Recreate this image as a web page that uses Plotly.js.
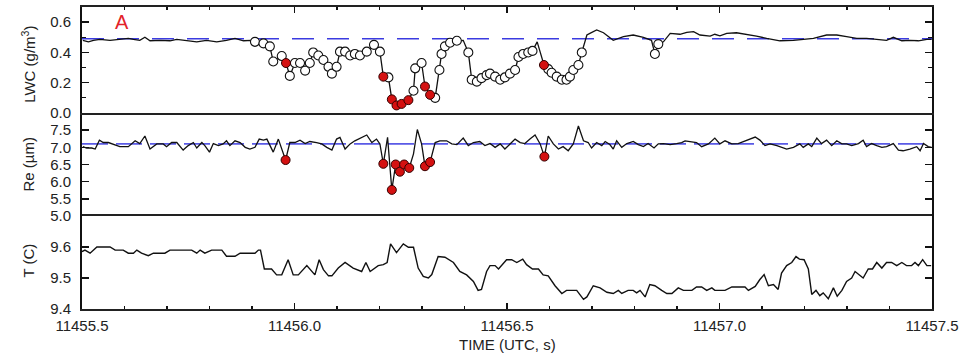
<!DOCTYPE html>
<html>
<head>
<meta charset="utf-8">
<script src="https://cdn.plot.ly/plotly-3.0.1.min.js"></script>
<style>html,body{margin:0;padding:0;background:#fff;}#chart{width:969px;height:356px;}</style>
</head>
<body>
<div id="chart"></div>
<script>
// ---- data (time in UTC seconds) ----
const lwcTime = [11455.502,11455.515,11455.527,11455.542,11455.566,11455.589,11455.609,11455.621,11455.636,11455.648,11455.660,11455.684,11455.707,11455.723,11455.746,11455.770,11455.793,11455.817,11455.840,11455.860,11455.880,11455.899,
11455.907,11455.927,11455.942,11455.950,11455.970,11455.980,11455.989,11456.001,11456.013,11456.025,11456.036,11456.044,11456.056,11456.068,11456.080,11456.088,11456.099,11456.107,11456.119,11456.131,11456.142,11456.154,11456.170,11456.187,11456.201,11456.209,11456.221,11456.229,11456.240,11456.252,11456.268,11456.280,11456.284,11456.299,11456.307,11456.319,11456.331,11456.341,11456.346,11456.354,11456.366,11456.382,11456.397,11456.409,11456.417,11456.429,11456.440,11456.452,11456.460,11456.472,11456.484,11456.495,11456.507,11456.519,11456.527,11456.538,11456.550,11456.560,11456.571,11456.587,11456.597,11456.605,11456.617,11456.629,11456.640,11456.648,11456.656,11456.668,11456.676,
11456.688,11456.695,11456.711,11456.727,11456.750,11456.774,11456.797,11456.821,11456.840,11456.848,11456.856,11456.868,11456.884,11456.907,11456.923,11456.939,11456.954,11456.978,11456.989,11457.001,11457.017,11457.040,11457.064,11457.087,11457.111,11457.142,11457.174,11457.197,11457.221,11457.252,11457.276,11457.299,11457.323,11457.346,11457.370,11457.393,11457.409,11457.429,11457.448,11457.468,11457.488,11457.499];
const lwcValue = [0.48,0.47,0.48,0.486,0.48,0.486,0.493,0.486,0.48,0.50,0.477,0.48,0.477,0.486,0.48,0.47,0.48,0.47,0.48,0.493,0.477,0.48,
0.47,0.46,0.44,0.34,0.376,0.33,0.245,0.33,0.33,0.28,0.33,0.40,0.38,0.35,0.305,0.26,0.305,0.405,0.405,0.38,0.39,0.38,0.405,0.45,0.405,0.24,0.235,0.09,0.05,0.06,0.085,0.147,0.295,0.33,0.175,0.12,0.10,0.284,0.39,0.44,0.464,0.477,0.48,0.40,0.22,0.207,0.23,0.25,0.26,0.24,0.22,0.235,0.26,0.284,0.37,0.39,0.40,0.41,0.47,0.317,0.29,0.266,0.24,0.22,0.22,0.24,0.284,0.317,0.40,
0.515,0.526,0.548,0.53,0.48,0.505,0.515,0.50,0.48,0.39,0.455,0.47,0.526,0.52,0.533,0.537,0.515,0.508,0.52,0.51,0.526,0.53,0.52,0.508,0.493,0.477,0.48,0.486,0.493,0.515,0.515,0.505,0.493,0.493,0.486,0.48,0.50,0.477,0.48,0.477,0.486,0.486];
// 0 = no marker, 1 = open circle, 2 = red (low Re)
const lwcFlag = [0,0,0,0,0,0,0,0,0,0,0,0,0,0,0,0,0,0,0,0,0,0,
1,1,1,1,1,2,1,1,1,1,1,1,1,1,1,1,1,1,1,1,1,1,1,1,1,2,1,2,2,2,2,1,1,1,2,2,1,1,1,1,1,1,0,1,1,1,1,1,1,1,1,1,1,1,1,1,1,1,0,2,1,1,1,1,1,1,1,1,1,
0,0,0,0,0,0,0,0,0,1,1,0,0,0,0,0,0,0,0,0,0,0,0,0,0,0,0,0,0,0,0,0,0,0,0,0,0,0,0,0,0,0];
const lwcMean = 0.49;

const reTime = [11455.502,11455.511,11455.523,11455.531,11455.541,11455.550,11455.562,11455.574,11455.589,11455.609,11455.625,11455.636,11455.648,11455.660,11455.676,11455.691,11455.699,11455.711,11455.723,11455.738,11455.750,11455.762,11455.770,11455.782,11455.789,11455.800,11455.809,11455.821,11455.832,11455.840,11455.848,11455.860,11455.872,11455.884,11455.895,11455.907,11455.917,11455.927,11455.935,11455.950,11455.962,11455.979,11455.989,11456.001,11456.013,11456.025,11456.036,11456.052,11456.064,11456.076,11456.088,11456.099,11456.107,11456.119,11456.131,11456.142,11456.154,11456.170,11456.182,11456.193,11456.201,11456.209,11456.219,11456.229,11456.238,11456.248,11456.258,11456.270,11456.280,11456.289,11456.299,11456.307,11456.319,11456.331,11456.342,11456.358,11456.370,11456.382,11456.397,11456.409,11456.421,11456.436,11456.448,11456.460,11456.472,11456.484,11456.495,11456.507,11456.519,11456.531,11456.542,11456.554,11456.566,11456.578,11456.588,11456.597,11456.609,11456.621,11456.632,11456.644,11456.656,11456.668,11456.680,11456.691,11456.699,11456.711,11456.723,11456.731,11456.742,11456.750,11456.758,11456.770,11456.782,11456.797,11456.809,11456.821,11456.832,11456.846,11456.856,11456.868,11456.884,11456.899,11456.911,11456.919,11456.935,11456.946,11456.958,11456.974,11456.989,11457.001,11457.013,11457.029,11457.044,11457.064,11457.084,11457.095,11457.107,11457.119,11457.135,11457.158,11457.174,11457.189,11457.197,11457.209,11457.217,11457.229,11457.240,11457.252,11457.264,11457.276,11457.288,11457.299,11457.311,11457.327,11457.338,11457.346,11457.358,11457.370,11457.382,11457.393,11457.409,11457.421,11457.432,11457.448,11457.464,11457.472,11457.480,11457.491,11457.499];
const reValue = [7.02,6.98,6.98,6.95,7.21,7.14,7.14,7.08,7.02,7.02,7.19,7.11,7.33,6.95,7.10,7.10,7.02,7.14,7.14,6.92,7.05,7.14,6.98,7.14,7.05,6.86,7.11,7.05,7.10,7.19,7.05,7.19,7.14,7.00,6.95,7.00,7.24,7.21,7.24,6.86,7.24,6.63,7.14,7.14,7.21,7.11,7.17,7.14,7.10,7.00,6.92,7.24,7.29,6.95,7.10,7.19,7.27,7.36,7.14,7.24,7.10,6.52,7.29,5.76,6.50,6.29,6.50,6.40,6.81,7.52,7.10,6.45,6.57,7.14,7.19,7.19,7.10,7.08,7.27,7.05,7.14,7.17,7.05,7.11,7.00,7.10,6.95,7.10,7.24,7.14,7.11,7.24,7.36,7.10,6.73,7.33,7.10,6.95,7.02,6.90,7.10,7.62,7.19,7.14,6.98,7.14,7.05,7.17,7.08,6.95,7.19,7.00,7.11,7.17,7.08,7.02,7.11,6.98,7.10,7.11,7.08,7.11,7.14,7.19,7.17,7.14,7.02,7.10,7.27,7.10,7.19,7.10,7.11,7.21,7.30,7.21,7.05,7.10,7.05,6.95,7.00,7.10,7.00,7.10,7.02,7.27,7.11,7.21,7.05,7.19,7.10,7.10,7.05,7.11,7.21,7.02,7.11,7.05,7.00,7.02,7.11,6.92,6.90,6.95,7.02,6.90,7.11,7.02,7.00];
const reFlag = [0,0,0,0,0,0,0,0,0,0,0,0,0,0,0,0,0,0,0,0,0,0,0,0,0,0,0,0,0,0,0,0,0,0,0,0,0,0,0,0,0,1,0,0,0,0,0,0,0,0,0,0,0,0,0,0,0,0,0,0,0,1,0,1,1,1,1,1,0,0,0,1,1,0,0,0,0,0,0,0,0,0,0,0,0,0,0,0,0,0,0,0,0,0,1,0,0,0,0,0,0,0,0,0,0,0,0,0,0,0,0,0,0,0,0,0,0,0,0,0,0,0,0,0,0,0,0,0,0,0,0,0,0,0,0,0,0,0,0,0,0,0,0,0,0,0,0,0,0,0,0,0,0,0,0,0,0,0,0,0,0,0,0,0,0,0,0,0,0,0,0];
const reMean = 7.1;

const tTime = [11455.500,11455.507,11455.519,11455.535,11455.566,11455.578,11455.597,11455.609,11455.621,11455.629,11455.640,11455.656,11455.668,11455.695,11455.707,11455.758,11455.770,11455.778,11455.789,11455.805,11455.829,11455.840,11455.860,11455.872,11455.907,11455.915,11455.920,11455.929,11455.946,11455.958,11455.970,11455.985,11455.997,11456.009,11456.029,11456.048,11456.058,11456.068,11456.080,11456.088,11456.103,11456.119,11456.138,11456.158,11456.168,11456.178,11456.197,11456.209,11456.218,11456.226,11456.240,11456.256,11456.268,11456.280,11456.291,11456.303,11456.315,11456.323,11456.338,11456.354,11456.374,11456.389,11456.405,11456.421,11456.432,11456.440,11456.452,11456.460,11456.472,11456.480,11456.499,11456.511,11456.523,11456.537,11456.546,11456.560,11456.574,11456.585,11456.597,11456.613,11456.629,11456.640,11456.664,11456.680,11456.688,11456.703,11456.719,11456.735,11456.750,11456.762,11456.770,11456.785,11456.797,11456.805,11456.813,11456.825,11456.836,11456.848,11456.864,11456.876,11456.888,11456.903,11456.915,11456.935,11456.946,11456.958,11456.970,11456.982,11456.989,11457.013,11457.029,11457.060,11457.068,11457.084,11457.095,11457.105,11457.115,11457.127,11457.138,11457.146,11457.158,11457.170,11457.180,11457.188,11457.199,11457.209,11457.217,11457.227,11457.236,11457.244,11457.256,11457.268,11457.277,11457.288,11457.299,11457.311,11457.319,11457.329,11457.338,11457.350,11457.360,11457.370,11457.382,11457.393,11457.405,11457.417,11457.429,11457.440,11457.452,11457.460,11457.468,11457.478,11457.488,11457.498];
const tValue = [9.585,9.59,9.58,9.60,9.60,9.59,9.59,9.58,9.58,9.59,9.58,9.572,9.58,9.58,9.59,9.59,9.58,9.59,9.58,9.59,9.59,9.57,9.57,9.58,9.58,9.59,9.59,9.529,9.529,9.51,9.51,9.559,9.51,9.51,9.54,9.51,9.559,9.527,9.507,9.507,9.532,9.55,9.532,9.521,9.55,9.521,9.54,9.543,9.55,9.61,9.582,9.61,9.599,9.599,9.532,9.505,9.50,9.511,9.569,9.567,9.55,9.521,9.51,9.489,9.46,9.463,9.521,9.54,9.54,9.529,9.559,9.559,9.55,9.561,9.543,9.529,9.529,9.51,9.507,9.475,9.45,9.46,9.46,9.431,9.439,9.475,9.468,9.454,9.45,9.46,9.45,9.46,9.46,9.452,9.46,9.439,9.479,9.475,9.46,9.45,9.45,9.468,9.46,9.46,9.471,9.471,9.46,9.468,9.46,9.46,9.471,9.471,9.46,9.473,9.495,9.511,9.475,9.479,9.463,9.516,9.54,9.55,9.569,9.561,9.559,9.529,9.447,9.46,9.443,9.452,9.433,9.468,9.441,9.46,9.489,9.50,9.521,9.511,9.50,9.529,9.529,9.55,9.532,9.55,9.55,9.54,9.55,9.54,9.54,9.55,9.54,9.559,9.54,9.54];

const xRange = [11455.5, 11457.5];
const lwcTicks = [0.0, 0.2, 0.4, 0.6];
const reTicks = [5.0, 5.5, 6.0, 6.5, 7.0, 7.5];
const tTicks = [9.4, 9.5, 9.6];

// ---- build traces ----
function pick(xs, ys, flags, f) {
  const ox = [], oy = [];
  flags.forEach((v, i) => { if (v === f) { ox.push(xs[i]); oy.push(ys[i]); } });
  return [ox, oy];
}
const FONT = 'Liberation Sans, Arial, sans-serif';
const [wcx, wcy] = pick(lwcTime, lwcValue, lwcFlag, 1);
const [rcx, rcy] = pick(lwcTime, lwcValue, lwcFlag, 2);
const [rrx, rry] = pick(reTime, reValue, reFlag, 1);

const traces = [
  {x: xRange, y: [lwcMean, lwcMean], xaxis: 'x3', yaxis: 'y', mode: 'lines',
   line: {color: '#3b3be0', width: 1.6, dash: '22px,13px'}, hoverinfo: 'skip'},
  {x: lwcTime, y: lwcValue, xaxis: 'x3', yaxis: 'y', mode: 'lines',
   line: {color: '#111', width: 1.3}},
  {x: wcx, y: wcy, xaxis: 'x3', yaxis: 'y', mode: 'markers',
   marker: {symbol: 'circle', size: 9, color: '#fff', line: {color: '#111', width: 1.1}}},
  {x: rcx, y: rcy, xaxis: 'x3', yaxis: 'y', mode: 'markers',
   marker: {symbol: 'circle', size: 9, color: '#d41111', line: {color: '#300', width: 1}}},
  {x: xRange, y: [reMean, reMean], xaxis: 'x2', yaxis: 'y2', mode: 'lines',
   line: {color: '#5a5ae6', width: 1.6, dash: '26px,8px'}, hoverinfo: 'skip'},
  {x: reTime, y: reValue, xaxis: 'x2', yaxis: 'y2', mode: 'lines',
   line: {color: '#111', width: 1.3}},
  {x: rrx, y: rry, xaxis: 'x2', yaxis: 'y2', mode: 'markers',
   marker: {symbol: 'circle', size: 9, color: '#d41111', line: {color: '#300', width: 1}}},
  {x: tTime, y: tValue, xaxis: 'x', yaxis: 'y3', mode: 'lines',
   line: {color: '#111', width: 1.4}}
];

const tickFont = {family: FONT, size: 15, color: '#222'};
const baseX = {range: xRange, showgrid: false, zeroline: false, showline: true,
  linecolor: '#222', linewidth: 2, fixedrange: true};
const baseY = {showgrid: false, zeroline: false, showline: true, linecolor: '#111',
  linewidth: 2, ticks: 'inside', ticklen: 7, tickwidth: 1.5, tickcolor: '#111',
  mirror: 'ticks', tickfont: tickFont, ticklabelstandoff: 6, tickmode: 'array'};

const layout = {
  width: 969, height: 356,
  margin: {l: 82, r: 37, t: 7, b: 47},
  paper_bgcolor: '#fff', plot_bgcolor: '#fff',
  showlegend: false,
  font: {family: FONT, color: '#222'},
  xaxis: Object.assign({}, baseX, {anchor: 'y3', ticks: 'inside', ticklen: 6, tickwidth: 1.5,
    tickcolor: '#111', tick0: 11455.5, dtick: 0.5, tickformat: '.1f', tickfont: tickFont,
    ticklabelstandoff: 2,
    minor: {dtick: 0.1, tick0: 11455.5, ticks: 'inside', ticklen: 3, tickwidth: 1.2, tickcolor: '#111'},
    mirror: true}),
  xaxis2: Object.assign({}, baseX, {anchor: 'y2', matches: 'x', showticklabels: false, ticks: '', showline: false}),
  xaxis3: Object.assign({}, baseX, {anchor: 'y', matches: 'x', side: 'top', showticklabels: false,
    ticks: 'inside', ticklen: 6, tickwidth: 1.5, tickcolor: '#111', tick0: 11455.5, dtick: 0.5,
    minor: {dtick: 0.1, tick0: 11455.5, ticks: 'inside', ticklen: 3, tickwidth: 1.2, tickcolor: '#111'},
    mirror: true}),
  yaxis: Object.assign({}, baseY, {domain: [0.649, 1], anchor: 'x3', range: [0, 0.7],
    tickvals: lwcTicks, ticktext: lwcTicks.map(v => v.toFixed(1)),
    minor: {tickmode: 'linear', tick0: 0, dtick: 0.1, ticks: 'inside', ticklen: 4, tickwidth: 1.2, tickcolor: '#111'}}),
  yaxis2: Object.assign({}, baseY, {domain: [0.308, 0.649], anchor: 'x2', range: [5, 8],
    tickvals: reTicks, ticktext: reTicks.map(v => v.toFixed(1))}),
  yaxis3: Object.assign({}, baseY, {domain: [0, 0.308], anchor: 'x', range: [9.4, 9.7],
    tickvals: tTicks, ticktext: tTicks.map(v => v.toFixed(1))}),
  annotations: [
    {text: 'LWC (g/m<sup>3</sup>)', textangle: -90, xref: 'paper', yref: 'paper',
     x: -0.063, y: 0.81, xanchor: 'center', yanchor: 'middle', showarrow: false,
     font: {family: FONT, size: 15, color: '#222'}},
    {text: 'Re (\u00b5m)', textangle: -90, xref: 'paper', yref: 'paper',
     x: -0.063, y: 0.48, xanchor: 'center', yanchor: 'middle', showarrow: false,
     font: {family: FONT, size: 15, color: '#222'}},
    {text: 'T (C)', textangle: -90, xref: 'paper', yref: 'paper',
     x: -0.063, y: 0.162, xanchor: 'center', yanchor: 'middle', showarrow: false,
     font: {family: FONT, size: 15, color: '#222'}},
    {text: 'TIME (UTC, s)', xref: 'paper', yref: 'paper', x: 0.5, y: -0.116,
     xanchor: 'center', yanchor: 'middle', showarrow: false,
     font: {family: FONT, size: 15, color: '#222'}},
    {text: 'A', xref: 'paper', yref: 'paper', x: 0.0476, y: 0.95,
     xanchor: 'center', yanchor: 'middle', showarrow: false,
     font: {family: FONT, size: 20, color: '#e3232a'}}
  ]
};

Plotly.newPlot('chart', traces, layout, {staticPlot: true, displayModeBar: false});
</script>
</body>
</html>
